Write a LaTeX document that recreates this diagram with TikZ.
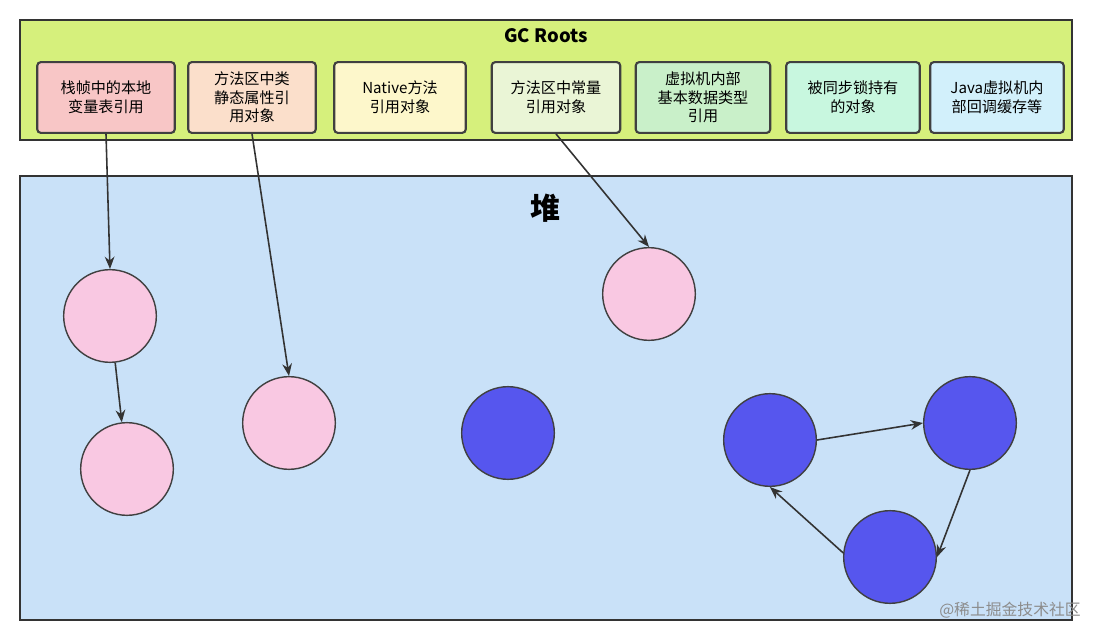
\documentclass[tikz,border=0pt]{standalone}
\usepackage{fontspec}
\setmainfont{Noto Sans CJK SC}
\usetikzlibrary{arrows.meta}

\definecolor{rootgreen}{HTML}{D6F07C}
\definecolor{heapblue}{HTML}{C9E1F8}
\definecolor{objpink}{HTML}{F9C8E2}
\definecolor{objblue}{HTML}{5656EE}
\definecolor{boxa}{HTML}{F8C6C6}
\definecolor{boxb}{HTML}{FBDFCB}
\definecolor{boxc}{HTML}{FDF7CB}
\definecolor{boxd}{HTML}{EAF5D6}
\definecolor{boxe}{HTML}{C9F0C9}
\definecolor{boxf}{HTML}{C8F7DF}
\definecolor{boxg}{HTML}{D2F0FB}

\tikzset{
  rootbox/.style={draw=black!75, line width=1.2pt, rounded corners=2pt,
    minimum height=71pt*0.567, align=center, font=\fontsize{8.6}{10.6}\selectfont, inner sep=1pt},
  obj/.style={circle, draw=black!75, line width=0.8pt, minimum size=93*0.567pt, inner sep=0pt},
  ref/.style={-{Stealth[length=7pt,width=5.5pt]}, line width=0.9pt, black!80}
}

\begin{document}
\begin{tikzpicture}[x=0.02cm, y=-0.02cm]

    % --- Canvas ---
    \useasboundingbox (0,0) rectangle (1100,642);

    % --- GC Roots area ---
    \draw[fill=rootgreen, draw=black!80, line width=1pt] (20,20) rectangle (1072,140);
    \node[font=\bfseries\fontsize{10.5}{12}\selectfont] (title) at (546,36) {GC Roots};

    % Root boxes (centres and widths)
    \node[rootbox, fill=boxa, minimum width=138*0.567pt] (r1) at (106,97.5) {栈帧中的本地\\变量表引用};
    \node[rootbox, fill=boxb, minimum width=128*0.567pt] (r2) at (252,97.5) {方法区中类\\静态属性引\\用对象};
    \node[rootbox, fill=boxc, minimum width=132*0.567pt] (r3) at (400,97.5) {Native方法\\引用对象};
    \node[rootbox, fill=boxd, minimum width=129*0.567pt] (r4) at (556,97.5) {方法区中常量\\引用对象};
    \node[rootbox, fill=boxe, minimum width=135*0.567pt] (r5) at (703,97.5) {虚拟机内部\\基本数据类型\\引用};
    \node[rootbox, fill=boxf, minimum width=134*0.567pt] (r6) at (853,97.5) {被同步锁持有\\的对象};
    \node[rootbox, fill=boxg, minimum width=134*0.567pt] (r7) at (997,97.5) {Java虚拟机内\\部回调缓存等};

    % --- Heap ---
    \draw[fill=heapblue, draw=black!80, line width=1pt] (20,176) rectangle (1072,620);
    \node[font=\bfseries\fontsize{17}{20}\selectfont] (heap) at (545,208) {堆};

    % --- Objects ---
    % reachable (pink)
    \node[obj, fill=objpink] (p1) at (110,316) {};
    \node[obj, fill=objpink] (p2) at (127,469) {};
    \node[obj, fill=objpink] (p3) at (289,423) {};
    \node[obj, fill=objpink] (p4) at (649,294) {};
    % unreachable (blue)
    \node[obj, fill=objblue] (b1) at (508,433) {};
    \node[obj, fill=objblue] (b2) at (770,440) {};
    \node[obj, fill=objblue] (b3) at (970,423) {};
    \node[obj, fill=objblue] (b4) at (890,557) {};

    % --- References ---
    \draw[ref] (r1.south) -- (p1.north);
    \draw[ref] (r2.south) -- (p3.north);
    \draw[ref] (r4.south) -- (p4.north);
    \draw[ref] (p1) -- (p2);
    \draw[ref] (b2.east) -- (b3.west);
    \draw[ref] (b3.south) -- (b4.east);
    \draw[ref] (b4.175) -- (b2.south);

    % --- Watermark ---
    \node[text=black!45, font=\fontsize{9}{11}\selectfont] (mark) at (1010,610) {@稀土掘金技术社区};

\end{tikzpicture}
\end{document}
